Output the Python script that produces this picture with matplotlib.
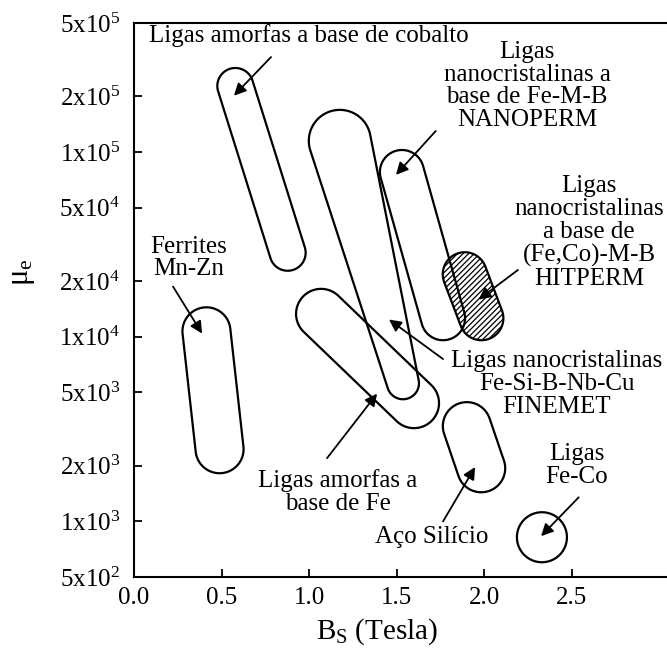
import numpy as np
import matplotlib
matplotlib.use("Agg")
import matplotlib.pyplot as plt
from matplotlib.patches import Polygon

plt.rcParams['font.family'] = ['Liberation Serif', 'DejaVu Serif']
plt.rcParams['mathtext.fontset'] = 'custom'
plt.rcParams['mathtext.rm'] = 'Liberation Serif'
plt.rcParams['mathtext.it'] = 'Liberation Serif:italic'
plt.rcParams['hatch.linewidth'] = 0.9

# ---------------- data ----------------
region_names = ['Co amorfo', 'FINEMET', 'NANOPERM', 'HITPERM',
                'Fe amorfo', 'Ferrites Mn-Zn', 'Aco Silicio', 'Fe-Co']
# two ends of each region (Bs in Tesla, mu_e)
bs_end1 = [0.579, 1.176, 1.531, 1.890, 1.069, 0.414, 1.902, 2.331]
mu_end1 = [2.28e5, 1.15e5, 7.8e4, 2.18e4, 1.33e4, 1.07e4, 3.28e3, 8.21e2]
bs_end2 = [0.878, 1.537, 1.766, 1.985, 1.600, 0.489, 1.984, 2.331]
mu_end2 = [2.85e4, 5.6e3, 1.26e4, 1.26e4, 4.37e3, 2.46e3, 1.94e3, 8.21e2]

x_ticks = [0.0, 0.5, 1.0, 1.5, 2.0, 2.5]
x_tick_labels = ['0.0', '0.5', '1.0', '1.5', '2.0', '2.5']
y_ticks = [5e2, 1e3, 2e3, 5e3, 1e4, 2e4, 5e4, 1e5, 2e5, 5e5]
y_tick_labels = [r'$\mathregular{5x10^2}$', r'$\mathregular{1x10^3}$',
                 r'$\mathregular{2x10^3}$', r'$\mathregular{5x10^3}$',
                 r'$\mathregular{1x10^4}$', r'$\mathregular{2x10^4}$',
                 r'$\mathregular{5x10^4}$', r'$\mathregular{1x10^5}$',
                 r'$\mathregular{2x10^5}$', r'$\mathregular{5x10^5}$']

labels = ['Ligas amorfas a base de cobalto',
          'Ligas nanocristalinas\nFe-Si-B-Nb-Cu\nFINEMET',
          'Ligas\nnanocristalinas a\nbase de Fe-M-B\nNANOPERM',
          'Ligas\nnanocristalinas\na base de\n(Fe,Co)-M-B\nHITPERM',
          'Ligas amorfas a\nbase de Fe',
          'Ferrites\nMn-Zn',
          'Aço Silício',
          'Ligas\nFe-Co']

# ---------------- layout / style ----------------
radius1 = [18, 31, 22, 22, 25, 24, 24, 25]   # px
radius2 = [18, 16, 22, 22, 25, 24, 24, 25]
hatched = [False, False, False, True, False, False, False, False]

text_pos = [(1.00, 4.3e5), (2.415, 5.53e3), (2.246, 2.28e5), (2.60, 3.68e4),
            (1.163, 1.44e3), (0.314, 2.67e4), (1.703, 8.21e2), (2.531, 2.0e3)]
arrow_tail = [(0.783, 3.27e5), (1.766, 7.57e3), (1.724, 1.30e5), (2.194, 2.30e4),
              (1.103, 2.20e3), (0.223, 1.87e4), (1.766, 1.0e3), (2.541, 1.35e3)]
arrow_head = [(0.571, 2.02e5), (1.457, 1.24e4), (1.497, 7.53e4), (1.969, 1.59e4),
              (1.389, 4.92e3), (0.389, 1.04e4), (1.949, 1.97e3), (2.326, 8.32e2)]

W, H = 667, 650
fig = plt.figure(figsize=(W / 100, H / 100), dpi=100)
x_max = 3.1
ax = fig.add_axes([134 / W, 73 / H, x_max * 175 / W, 554 / H])
ax.set_yscale('log')
ax.set_xlim(0, x_max)
ax.set_ylim(5e2, 5e5)
ax.spines['right'].set_visible(False)
for s in ['left', 'bottom', 'top']:
    ax.spines[s].set_linewidth(1.5)

ax.set_xticks(x_ticks)
ax.set_xticklabels(x_tick_labels)
ax.set_yticks(y_ticks)
ax.set_yticklabels(y_tick_labels)
ax.yaxis.set_minor_locator(matplotlib.ticker.NullLocator())
ax.tick_params(axis='both', which='major', direction='in', length=6, width=1.3,
               labelsize=18)
ax.tick_params(axis='x', pad=7)
ax.tick_params(axis='y', pad=10)

ax.set_xlabel(r'$\mathregular{B_S}$ (Tesla)', fontsize=21)
ax.xaxis.label.set_va('center')
ax.xaxis.set_label_coords(0.448, -0.099)
ax.set_ylabel(r'$\mathregular{\mu_e}$', fontsize=22)
ax.yaxis.label.set_va('center')
ax.yaxis.set_label_coords(-0.205, 0.55)


def hull(points):
    pts = sorted(map(tuple, points))
    def cross(o, a, b):
        return (a[0] - o[0]) * (b[1] - o[1]) - (a[1] - o[1]) * (b[0] - o[0])
    lower, upper = [], []
    for p in pts:
        while len(lower) >= 2 and cross(lower[-2], lower[-1], p) <= 0:
            lower.pop()
        lower.append(p)
    for p in reversed(pts):
        while len(upper) >= 2 and cross(upper[-2], upper[-1], p) <= 0:
            upper.pop()
        upper.append(p)
    return np.array(lower[:-1] + upper[:-1])


t = np.linspace(0, 2 * np.pi, 180, endpoint=False)
for i in range(len(region_names)):
    p = ax.transData.transform([(bs_end1[i], mu_end1[i]), (bs_end2[i], mu_end2[i])])
    pts = np.vstack([
        np.column_stack([p[0, 0] + radius1[i] * np.cos(t), p[0, 1] + radius1[i] * np.sin(t)]),
        np.column_stack([p[1, 0] + radius2[i] * np.cos(t), p[1, 1] + radius2[i] * np.sin(t)]),
    ])
    h = hull(pts)
    data = ax.transData.inverted().transform(h)
    poly = Polygon(data, closed=True, facecolor='none', edgecolor='black',
                   linewidth=1.6, hatch='//////' if hatched[i] else None, zorder=3)
    ax.add_patch(poly)

for i in range(len(labels)):
    ax.text(text_pos[i][0], text_pos[i][1], labels[i], ha='center', va='center',
            fontsize=18, linespacing=1.05, zorder=5, clip_on=False)
    ax.annotate('', xy=arrow_head[i], xytext=arrow_tail[i],
                arrowprops=dict(arrowstyle='-|>', color='black', lw=1.3,
                                mutation_scale=18, shrinkA=0, shrinkB=0),
                zorder=4)

fig.savefig('out.png', dpi=100)
